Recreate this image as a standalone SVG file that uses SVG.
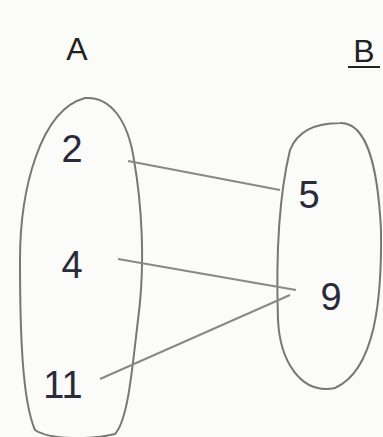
<svg xmlns="http://www.w3.org/2000/svg" width="383" height="437" viewBox="0 0 383 437">
<style>
.set{fill:none;stroke:#777;stroke-width:2}
.edge{fill:none;stroke:#888;stroke-width:2}
.lbl{font-family:"Liberation Sans",Arial,sans-serif;font-size:38px;fill:#2a2a3a;text-anchor:middle}
.hdr{font-family:"Liberation Sans",Arial,sans-serif;font-size:32px;fill:#222;text-anchor:middle}
</style>
<rect width="383" height="437" fill="#fbfbf9"/>
<g id="titleA"><text class="hdr" x="77" y="60">A</text></g>
<g id="titleB"><text class="hdr" x="364" y="62">B</text><line x1="348" y1="67" x2="380" y2="67" stroke="#222" stroke-width="2"/></g>
<g id="setA">
<path class="set" d="M85,98 C110,96 128,120 134,160 C141,200 146,260 138,320 C132,370 128,420 115,434 C90,440 50,440 35,430 C22,400 20,330 20,260 C20,190 40,110 85,98 Z"/>
</g>
<g id="setB">
<path class="set" d="M340,123 C368,122 378,170 381,230 C382,300 375,370 335,388 C300,395 280,360 278,320 C276,260 278,200 290,150 C298,130 318,123 340,123 Z"/>
</g>
<g id="n2"><text class="lbl" x="72" y="162">2</text></g>
<g id="n4"><text class="lbl" x="72" y="278">4</text></g>
<g id="n11"><text class="lbl" x="63" y="398">11</text></g>
<g id="n5"><text class="lbl" x="309" y="208">5</text></g>
<g id="n9"><text class="lbl" x="331" y="310">9</text></g>
<g id="connectors">
<line class="edge" x1="128" y1="161" x2="280" y2="190"/>
<line class="edge" x1="118" y1="259" x2="296" y2="290"/>
<line class="edge" x1="100" y1="379" x2="290" y2="295"/>
</g>
</svg>
